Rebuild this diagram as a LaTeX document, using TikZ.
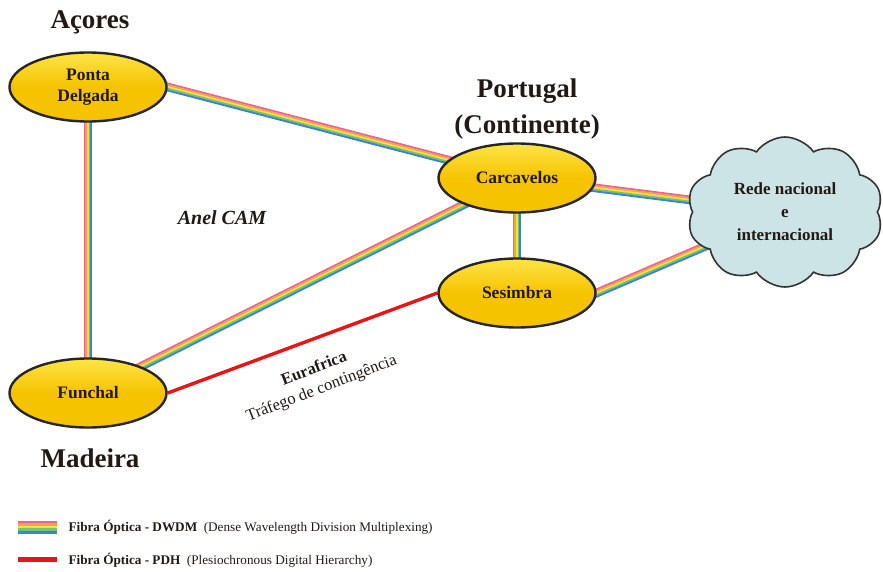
\documentclass[tikz,border=0pt]{standalone}
\usepackage{fontspec}
\setmainfont{Liberation Serif}
\usetikzlibrary{calc,shapes.geometric,shapes.symbols,backgrounds}

\definecolor{fpink}{RGB}{240,95,150}
\definecolor{forange}{RGB}{245,165,70}
\definecolor{fyellow}{RGB}{240,225,70}
\definecolor{fgreen}{RGB}{120,195,110}
\definecolor{fblue}{RGB}{60,130,210}
\definecolor{fred}{RGB}{235,20,20}
\definecolor{ouro}{RGB}{245,195,0}
\definecolor{ouroclaro}{RGB}{255,228,70}
\definecolor{nuvem}{RGB}{205,228,230}
\definecolor{texto}{RGB}{35,25,20}

% fibra DWDM: cinco riscas lado a lado
\newcommand{\fibra}[2]{%
  \foreach \d/\c in {3.4/fpink,1.7/forange,0/fyellow,-1.7/fgreen,-3.4/fblue}
    \draw[\c, line width=1.9pt, shorten <=-5pt, shorten >=-5pt]
      ($(#1)!\d pt!90:(#2)$) -- ($(#2)!\d pt!-90:(#1)$);}

\begin{document}
\begin{tikzpicture}
    [x=1pt, y=-1pt,
      every node/.style={text=texto},
      site/.style={ellipse, draw=black!85, line width=2.4pt, inner sep=0pt,
        minimum width=157pt, minimum height=69pt, align=center,
        top color=ouroclaro, bottom color=ouro, middle color=ouro,
        font=\fontsize{17.5}{21}\selectfont\bfseries},
      regiao/.style={align=center, font=\fontsize{27}{36}\selectfont\bfseries},
      legenda/.style={anchor=west, font=\fontsize{13.2}{15}\selectfont}]
    \useasboundingbox (0,0) rectangle (883,572);

    % locais
    \node[site] (pdelgada) at (88,87) {Ponta\\Delgada};
    \node[site] (carcavelos) at (517,178) {Carcavelos};
    \node[site] (sesimbra) at (517,293) {Sesimbra};
    \node[site] (funchal) at (88,393) {Funchal};
    \node[cloud, cloud puffs=10, cloud puff arc=110, cloud ignores aspect,
      draw=black!80, line width=1.6pt, fill=nuvem, align=center,
      minimum width=196pt, minimum height=150pt,
      font=\fontsize{17}{23}\selectfont\bfseries]
      (rede) at (785,212) {Rede nacional\\e\\internacional};

    % regioes
    \node[regiao] (acores) at (90,22) {Açores};
    \node[regiao] (portugal) at (527,109) {Portugal\\(Continente)};
    \node[regiao] (madeira) at (90,458) {Madeira};
    \node[font=\fontsize{20}{24}\selectfont\bfseries\itshape] (anel) at (222,218) {Anel CAM};
    \node[rotate=21, align=center, font=\fontsize{16.5}{21}\selectfont]
      (eurafrica) at (318,379) {\textbf{Eurafrica}\\Tráfego de contingência};

    % ligacoes
    \begin{pgfonlayer}{background}
      \fibra{pdelgada.east}{carcavelos.center}
      \fibra{funchal.center}{pdelgada.center}
      \fibra{funchal.center}{carcavelos.center}
      \fibra{sesimbra.center}{carcavelos.center}
      \fibra{carcavelos.center}{rede.center}
      \fibra{sesimbra.east}{rede.center}
      \draw[fred, line width=3.4pt] (funchal.east) -- (sesimbra.west);
    \end{pgfonlayer}

    % legenda
    \foreach \c [count=\i] in {fpink,forange,fyellow,fgreen,fblue}
      \fill[\c] (18,{518+2.6*\i}) rectangle (57,{520.6+2.6*\i});
    \fill[fred] (18,557) rectangle (57,562);
    \node[legenda] (leg1) at (65,527) {\textbf{Fibra Óptica - DWDM}\ \ (Dense Wavelength Division Multiplexing)};
    \node[legenda] (leg2) at (65,560) {\textbf{Fibra Óptica - PDH}\ \ (Plesiochronous Digital Hierarchy)};
  \end{tikzpicture}
\end{document}
